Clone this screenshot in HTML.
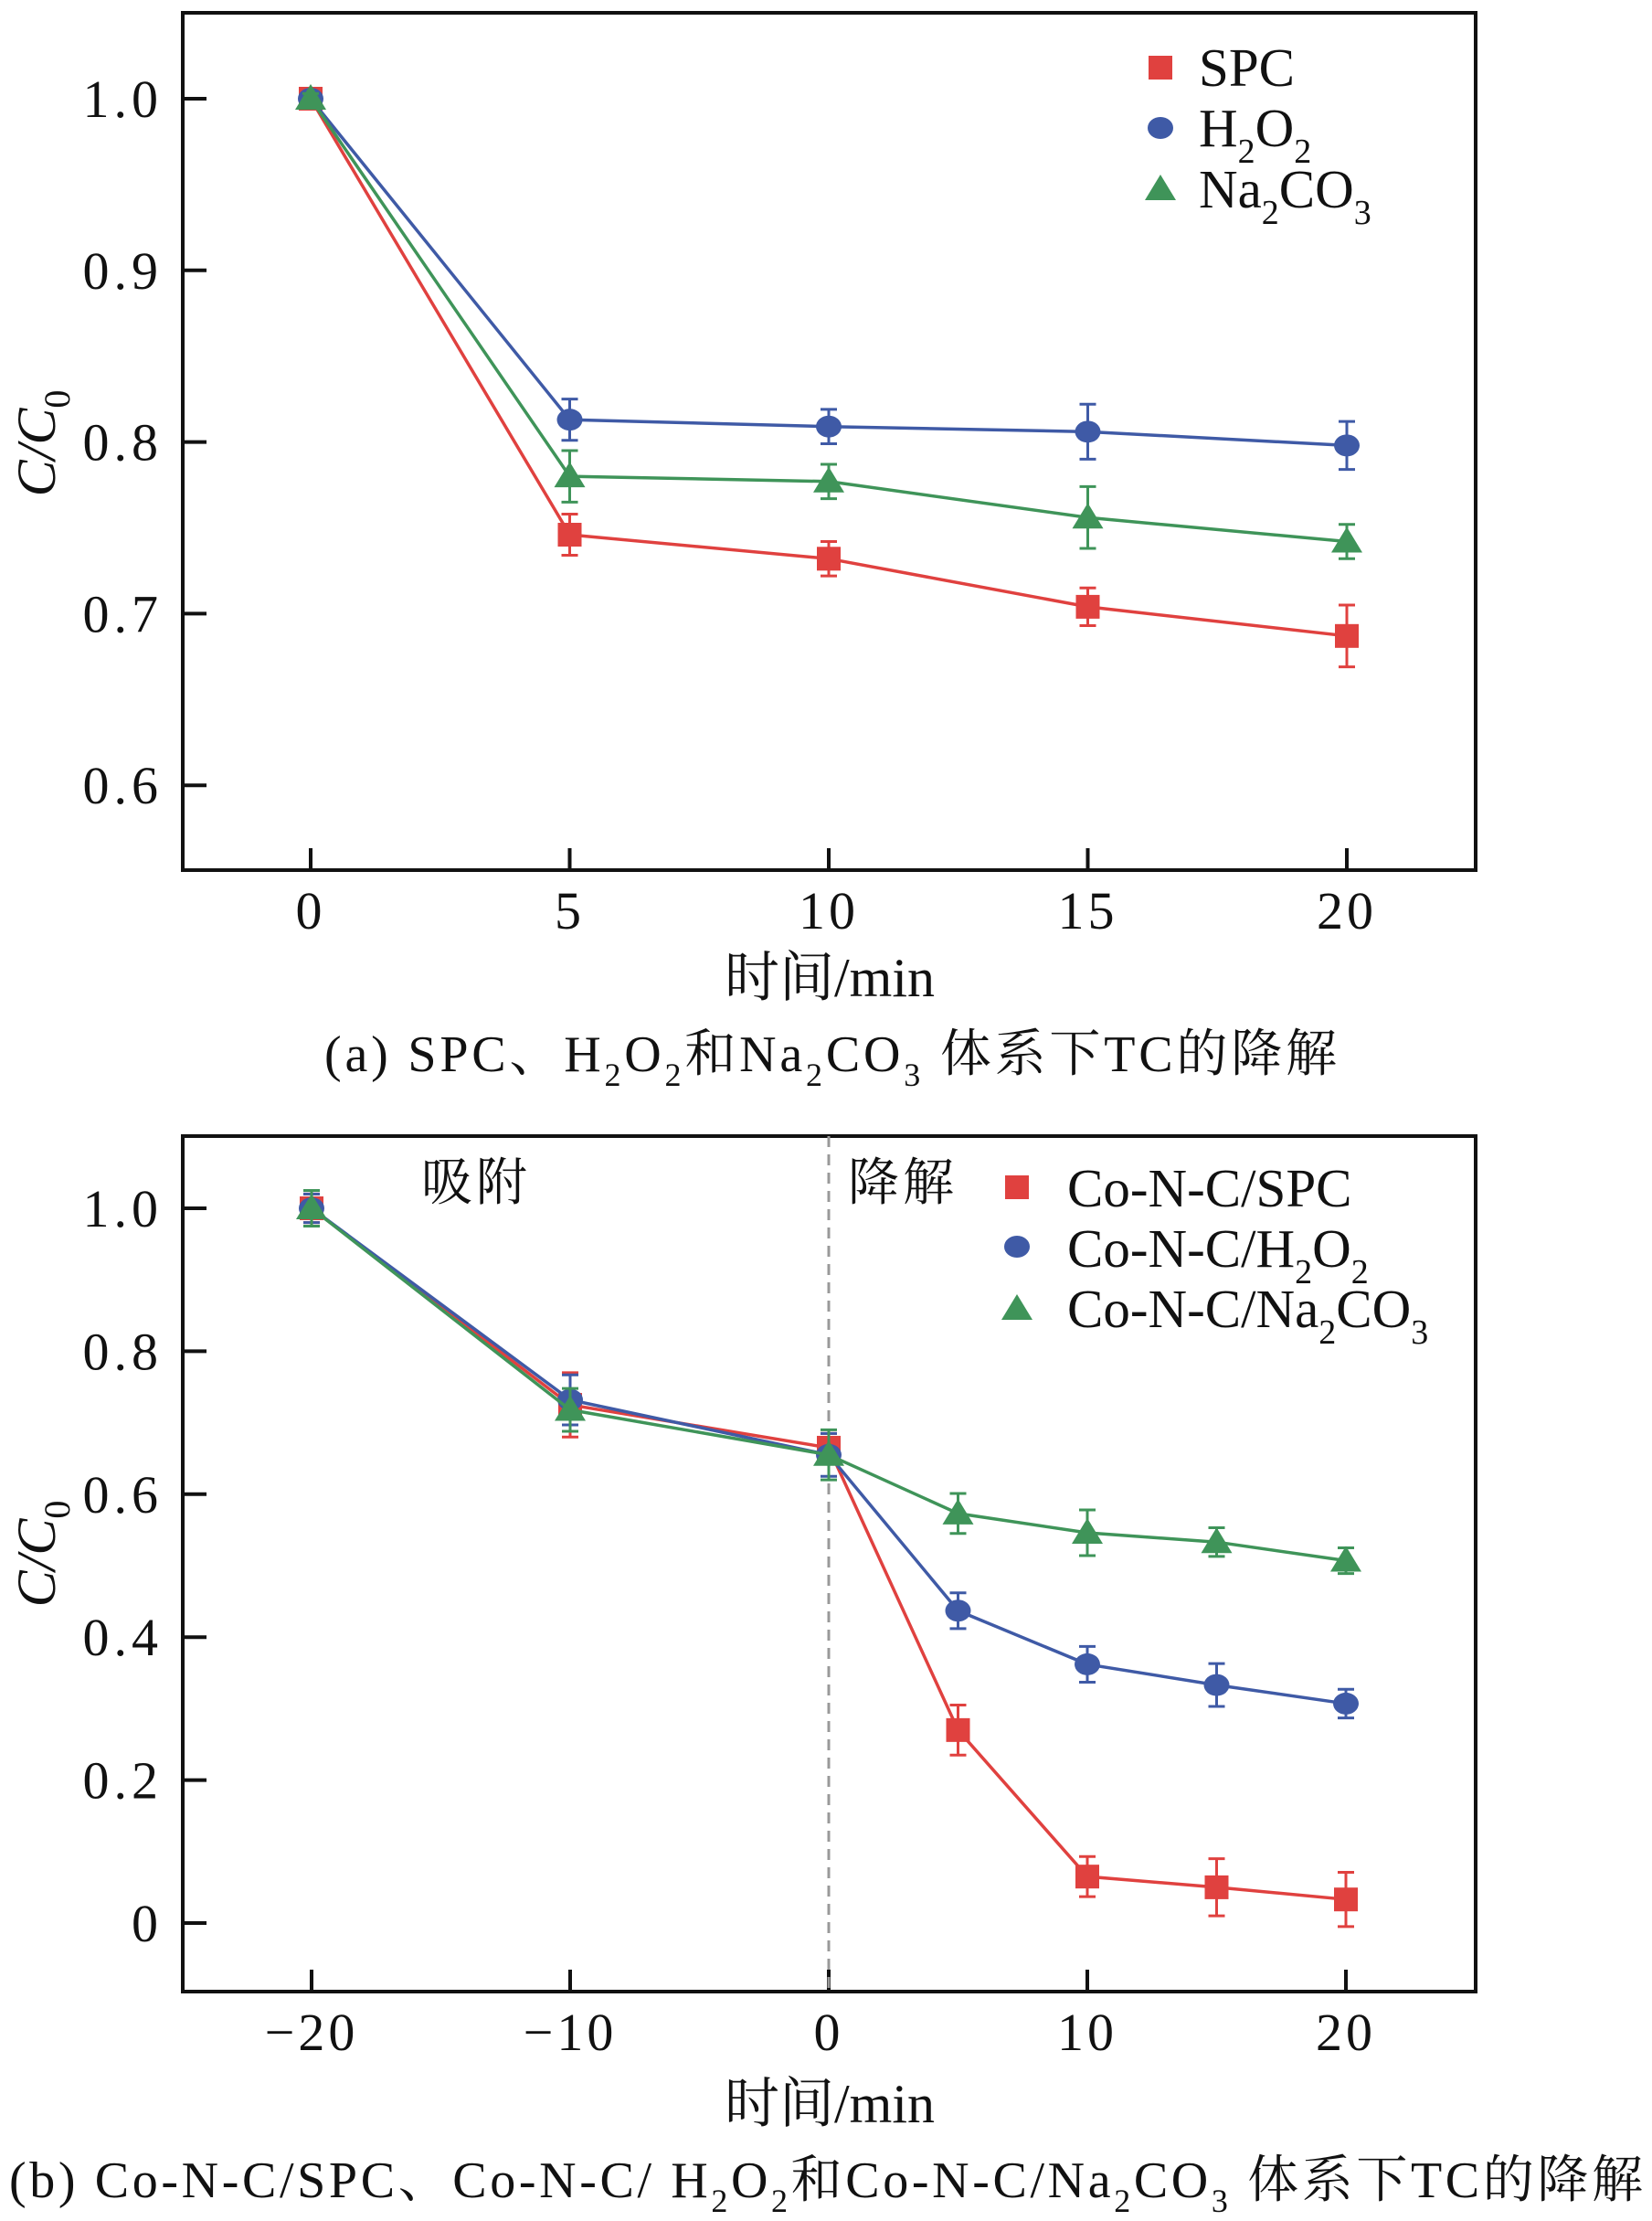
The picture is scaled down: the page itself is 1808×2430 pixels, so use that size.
<!DOCTYPE html>
<html><head><meta charset="utf-8"><style>
html,body{margin:0;padding:0;background:#fff;}
svg{display:block;font-family:"Liberation Serif","Noto Serif CJK SC",serif;}
</style></head><body>
<svg id="fig" width="1808" height="2430" viewBox="0 0 1808 2430" xmlns="http://www.w3.org/2000/svg">
<g id="chartA"></g>
<g id="chartB"></g>
</svg>
<script>
// ---- Chart A data ----
const aTimes = [0, 5, 10, 15, 20];
const aSPC = [1.0, 0.746, 0.732, 0.704, 0.687];
const aSPCerr = [0.003, 0.012, 0.010, 0.011, 0.018];
const aH2O2 = [1.0, 0.813, 0.809, 0.806, 0.798];
const aH2O2err = [0.003, 0.012, 0.010, 0.016, 0.014];
const aNa = [1.0, 0.780, 0.777, 0.756, 0.742];
const aNaerr = [0.003, 0.015, 0.010, 0.018, 0.010];
const aYTicks = [0.6, 0.7, 0.8, 0.9, 1.0];
const aYLabels = ["0.6", "0.7", "0.8", "0.9", "1.0"];
const aXTicks = [0, 5, 10, 15, 20];
const aXLabels = ["0", "5", "10", "15", "20"];
// ---- Chart B data ----
const bTimes = [-20, -10, 0, 5, 10, 15, 20];
const bSPC = [1.0, 0.725, 0.665, 0.270, 0.065, 0.050, 0.033];
const bSPCerr = [0.02, 0.045, 0.02, 0.035, 0.028, 0.040, 0.038];
const bH2O2 = [1.0, 0.732, 0.655, 0.437, 0.362, 0.333, 0.307];
const bH2O2err = [0.02, 0.035, 0.03, 0.025, 0.025, 0.030, 0.020];
const bNa = [1.0, 0.718, 0.655, 0.573, 0.546, 0.533, 0.507];
const bNaerr = [0.025, 0.030, 0.035, 0.028, 0.032, 0.020, 0.018];
const bYTicks = [0, 0.2, 0.4, 0.6, 0.8, 1.0];
const bYLabels = ["0", "0.2", "0.4", "0.6", "0.8", "1.0"];
const bXTicks = [-20, -10, 0, 10, 20];
const bXLabels = ["\u221220", "\u221210", "0", "10", "20"];

const NS = "http://www.w3.org/2000/svg";
const RED = "#e0413f", BLUE = "#3f5aa6", GREEN = "#3f9459";
function mk(tag, attrs, parent) {
  const e = document.createElementNS(NS, tag);
  for (const k in attrs) e.setAttribute(k, attrs[k]);
  parent.appendChild(e);
  return e;
}
function txt(parent, x, y, s, size, anchor, name, ls) {
  const t = mk("text", {x: x, y: y, "font-size": size, "text-anchor": anchor || "start", fill: "#111"}, parent);
  if (ls) t.setAttribute("letter-spacing", ls);
  t.textContent = s;
  
  
  return t;
}
function marker(g, kind, x, y, color) {
  let m;
  if (kind === "sq") m = mk("rect", {x: x - 13, y: y - 13, width: 26, height: 26, fill: color}, g);
  else if (kind === "ci") m = mk("ellipse", {cx: x, cy: y, rx: 14, ry: 12, fill: color}, g);
  else m = mk("polygon", {points: `${x},${y - 16} ${x + 17},${y + 12} ${x - 17},${y + 12}`, fill: color}, g);
  return m;
}
function drawChart(g, cfg) {
  const X = v => cfg.x0 + (v - cfg.xv0) * cfg.xs;
  const Y = v => cfg.y0 - (v - cfg.yv0) * cfg.ys;
  const frame = mk("rect", {x: cfg.L, y: cfg.T, width: cfg.R - cfg.L, height: cfg.B - cfg.T, fill: "none", stroke: "#111", "stroke-width": 4}, g);
  
  
  cfg.yTicks.forEach((v, i) => {
    const t = mk("line", {x1: cfg.L, x2: cfg.L + 26, y1: Y(v), y2: Y(v), stroke: "#111", "stroke-width": 4}, g);
    
    
    txt(g, cfg.L - 22, Y(v) + 20, cfg.yLabels[i], 58, "end", "y-tick-label", 5);
  });
  cfg.xTicks.forEach((v, i) => {
    const t = mk("line", {x1: X(v), x2: X(v), y1: cfg.B, y2: cfg.B - 24, stroke: "#111", "stroke-width": 4}, g);
    
    
    txt(g, X(v), cfg.B + 64, cfg.xLabels[i], 58, "middle", "x-tick-label", 4);
  });
  if (cfg.dashX !== undefined) {
    const d = mk("line", {x1: X(cfg.dashX), x2: X(cfg.dashX), y1: cfg.T, y2: cfg.B, stroke: "#999", "stroke-width": 3, "stroke-dasharray": "12,8"}, g);
    
    
  }
  cfg.series.forEach(s => {
    const sg = mk("g", {}, g);
    
    
    const pts = cfg.xs_data.map((t, i) => `${X(t)},${Y(s.vals[i])}`).join(" ");
    mk("polyline", {points: pts, fill: "none", stroke: s.color, "stroke-width": 3.5}, sg);
    cfg.xs_data.forEach((t, i) => {
      const x = X(t), y1 = Y(s.vals[i] + s.err[i]), y2 = Y(s.vals[i] - s.err[i]);
      const eb = mk("path", {d: `M${x},${y1}V${y2}M${x - 9},${y1}H${x + 9}M${x - 9},${y2}H${x + 9}`, stroke: s.color, "stroke-width": 3, fill: "none"}, sg);
      
      
      const m = marker(sg, s.kind, x, Y(s.vals[i]), s.color);
      
      
    });
  });
}
function legendEntry(g, kind, color, mx, my, tx, ty, parts) {
  const lg = mk("g", {}, g);
  
  
  marker(lg, kind, mx, my, color);
  const t = mk("text", {x: tx, y: ty, "font-size": 59, fill: "#111"}, lg);
  parts.forEach(p => {
    const ts = mk("tspan", {}, t);
    if (p[1]) { ts.setAttribute("font-size", 38); ts.setAttribute("dy", 18); }
    else if (p[2]) { ts.setAttribute("dy", -18); }
    ts.textContent = p[0];
  });
}
function ytitle(g, x, y) {
  const t = mk("text", {x: 0, y: 0, "font-size": 60, fill: "#111", "text-anchor": "middle", transform: `translate(${x},${y}) rotate(-90)`}, g);
  
  
  const a = mk("tspan", {"font-style": "italic"}, t); a.textContent = "C/C";
  const b = mk("tspan", {"font-size": 40, dy: 16}, t); b.textContent = "0";
}

const gA = document.getElementById("chartA");
drawChart(gA, {L: 200, R: 1615, T: 14, B: 952, x0: 340, xv0: 0, xs: 56.7, y0: 108, yv0: 1.0, ys: 1878,
  yTicks: aYTicks, yLabels: aYLabels, xTicks: aXTicks, xLabels: aXLabels, xs_data: aTimes,
  series: [
    {name: "series-spc", vals: aSPC, err: aSPCerr, color: RED, kind: "sq"},
    {name: "series-h2o2", vals: aH2O2, err: aH2O2err, color: BLUE, kind: "ci"},
    {name: "series-na2co3", vals: aNa, err: aNaerr, color: GREEN, kind: "tr"}
  ]});
legendEntry(gA, "sq", RED, 1270, 74, 1312, 94, [["SPC"]]);
legendEntry(gA, "ci", BLUE, 1270, 140, 1312, 160, [["H"], ["2", 1], ["O", 0, 1], ["2", 1]]);
legendEntry(gA, "tr", GREEN, 1270, 207, 1312, 227, [["Na"], ["2", 1], ["CO", 0, 1], ["3", 1]]);
ytitle(gA, 60, 485);
txt(gA, 908, 1090, "时间/min", 60, "middle", "x-axis-title");
const capA = mk("text", {x: 355, y: 1172, "font-size": 56, fill: "#111", textLength: 1108, lengthAdjust: "spacing"}, gA);


capA.innerHTML = '(a) SPC、H<tspan font-size="36" dy="16">2</tspan><tspan dy="-16">O</tspan><tspan font-size="36" dy="16">2</tspan><tspan dy="-16">和Na</tspan><tspan font-size="36" dy="16">2</tspan><tspan dy="-16">CO</tspan><tspan font-size="36" dy="16">3</tspan><tspan dy="-16"> 体系下TC的降解</tspan>';

const gB = document.getElementById("chartB");
drawChart(gB, {L: 200, R: 1615, T: 1243, B: 2179, x0: 907, xv0: 0, xs: 28.3, y0: 2104, yv0: 0, ys: 782,
  yTicks: bYTicks, yLabels: bYLabels, xTicks: bXTicks, xLabels: bXLabels, xs_data: bTimes, dashX: 0,
  series: [
    {name: "series-co-spc", vals: bSPC, err: bSPCerr, color: RED, kind: "sq"},
    {name: "series-co-h2o2", vals: bH2O2, err: bH2O2err, color: BLUE, kind: "ci"},
    {name: "series-co-na2co3", vals: bNa, err: bNaerr, color: GREEN, kind: "tr"}
  ]});
legendEntry(gB, "sq", RED, 1113, 1299, 1168, 1320, [["Co-N-C/SPC"]]);
legendEntry(gB, "ci", BLUE, 1113, 1364, 1168, 1386, [["Co-N-C/H"], ["2", 1], ["O", 0, 1], ["2", 1]]);
legendEntry(gB, "tr", GREEN, 1113, 1432, 1168, 1452, [["Co-N-C/Na"], ["2", 1], ["CO", 0, 1], ["3", 1]]);
txt(gB, 521, 1313, "吸附", 56, "middle", "adsorption-label", 4);
txt(gB, 988, 1313, "降解", 56, "middle", "degradation-label", 4);
ytitle(gB, 60, 1700);
txt(gB, 908, 2322, "时间/min", 60, "middle", "x-axis-title");
const capB = mk("text", {x: 10, y: 2404, "font-size": 56, fill: "#111", textLength: 1788, lengthAdjust: "spacing"}, gB);


capB.innerHTML = '(b) Co-N-C/SPC、Co-N-C/ H<tspan font-size="36" dy="16">2</tspan><tspan dy="-16">O</tspan><tspan font-size="36" dy="16">2</tspan><tspan dy="-16">和Co-N-C/Na</tspan><tspan font-size="36" dy="16">2</tspan><tspan dy="-16">CO</tspan><tspan font-size="36" dy="16">3</tspan><tspan dy="-16"> 体系下TC的降解</tspan>';
</script>
</body></html>
